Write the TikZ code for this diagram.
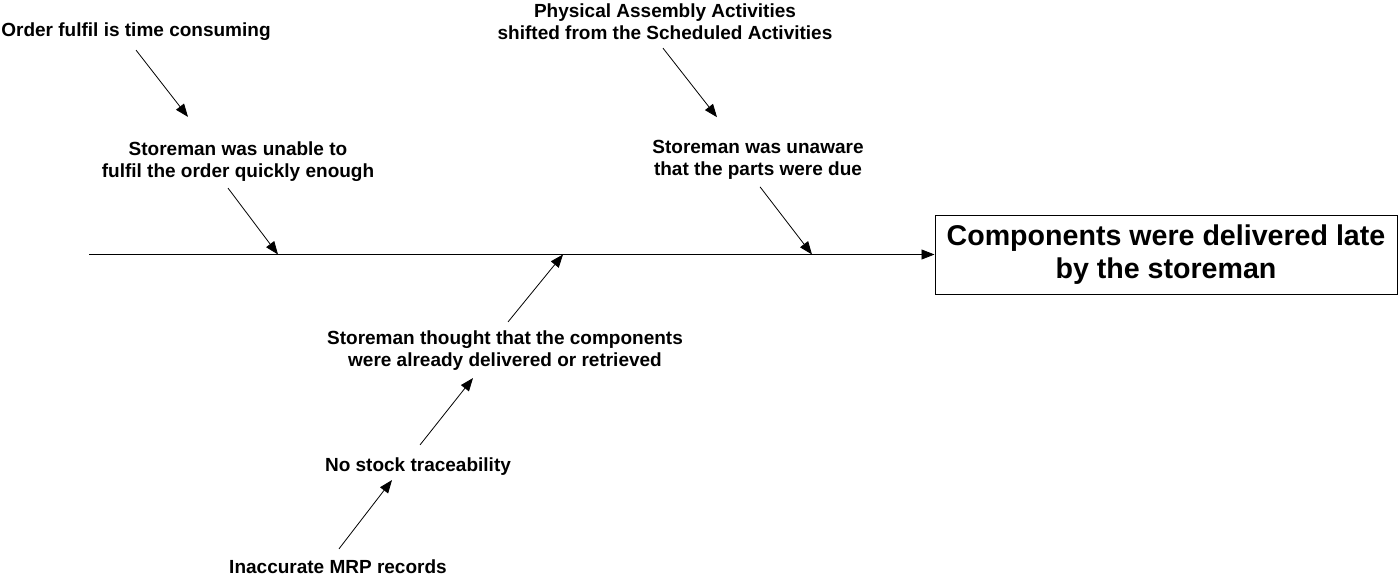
\documentclass[tikz,border=0pt]{standalone}
\usepackage{fontspec}
\setmainfont{Liberation Sans}
\usetikzlibrary{arrows.meta}
\begin{document}
\begin{tikzpicture}[x=1pt,y=-1pt,
  cause/.style={inner sep=0pt,align=center,font=\bfseries\fontsize{19}{22}\selectfont},
  effectbox/.style={draw,line width=1pt,minimum width=462pt,minimum height=79pt,inner sep=0pt,align=center,font=\bfseries\fontsize{28.6}{33}\selectfont},
  arr/.style={-{Triangle[length=13pt,width=10pt]},line width=0.8pt}]
\useasboundingbox (0,0) rectangle (1398,578);

% effect (fish head)
\node[effectbox] (effect) at (1166,254.5) {Components were delivered late\\by the storeman};

% spine and bone tips
\coordinate (tail) at (89,254.5);
\coordinate (b1) at (278,254.5);
\coordinate (b2) at (812,254.5);
\coordinate (b3) at (563,254.5);
\draw[arr] (tail) -- (effect.west);

% causes
\node[cause] (order) at (136,32) {Order fulfil is time consuming};
\node[cause] (unable) at (238,162) {Storeman was unable to\\fulfil the order quickly enough};
\node[cause] (physical) at (665,22) {Physical Assembly Activities\\shifted from the Scheduled Activities};
\node[cause] (unaware) at (758,160) {Storeman was unaware\\that the parts were due};
\node[cause] (thought) at (505,351) {Storeman thought that the components\\were already delivered or retrieved};
\node[cause] (nostock) at (418,467) {No stock traceability};
\node[cause] (inaccurate) at (338,567) {Inaccurate MRP records};

% cause arrows
\draw[arr] ([shift={(0,9)}]order.south) -- ([shift={(-50,-25)}]unable.north);
\draw[arr] ([shift={(-10,6)}]unable.south) -- (b1);
\draw[arr] ([shift={(-2,8)}]physical.south) -- ([shift={(-41,-23)}]unaware.north);
\draw[arr] ([shift={(2,7)}]unaware.south) -- (b2);
\draw[arr] ([shift={(3,-9)}]thought.north) -- (b3);
\draw[arr] ([shift={(2,-13)}]nostock.north) -- ([shift={(-32,7)}]thought.south);
\draw[arr] ([shift={(1,-11)}]inaccurate.north) -- ([shift={(-26,4)}]nostock.south);
\end{tikzpicture}
\end{document}
